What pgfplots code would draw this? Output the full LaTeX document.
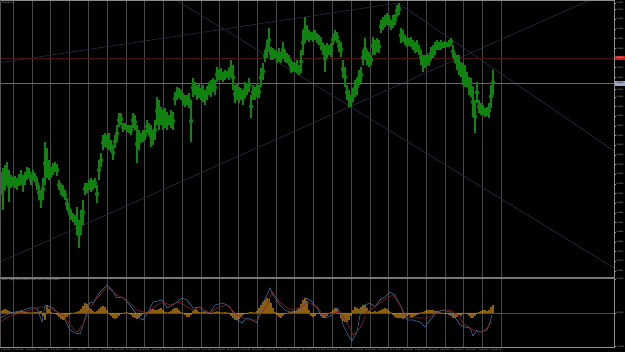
\documentclass[border=0pt]{standalone}
\usepackage{pgfplots}
\pgfplotsset{compat=1.18}
\usepackage{pgfplotstable}
\usepackage{fontspec}
\setmainfont{Liberation Sans}
\definecolor{gridgray}{RGB}{72,72,72}
\definecolor{framegray}{RGB}{140,140,140}
\definecolor{labelgray}{RGB}{180,180,180}
\definecolor{bargreen}{RGB}{16,130,16}
\definecolor{trendblue}{RGB}{32,42,60}
\definecolor{hlinered}{RGB}{75,18,18}
\definecolor{bidgray}{RGB}{106,106,106}
\definecolor{historange}{RGB}{215,145,20}
\definecolor{macdblue}{RGB}{63,110,158}
\definecolor{signalred}{RGB}{142,30,30}
\definecolor{bidbox}{RGB}{151,169,193}
\definecolor{redbox}{RGB}{200,30,30}
\newcommand\tinyf{\fontsize{2}{2.4}\selectfont}

\pgfplotstableread{
x t b
1 172 195
3 168 210
5 165 190
7 162 185
9 170 202
11 175 188
13 177 186
15 176 188
17 178 190
19 174 186
21 170 185
23 175 192
25 172 185
27 167 180
29 168 178
31 175 185
33 170 180
35 173 182
37 178 190
39 185 200
41 190 208
43 178 200
45 142 185
47 148 178
49 160 180
51 167 178
53 163 175
55 162 172
57 164 176
59 180 190
61 183 195
63 185 197
65 190 200
67 198 210
69 205 215
71 210 220
73 213 222
75 215 225
77 207 235
79 220 248
81 210 235
83 200 225
85 183 195
87 183 193
89 180 190
91 178 192
93 180 190
95 178 188
97 185 203
99 160 180
101 153 167
103 135 150
105 133 147
107 135 148
109 133 150
111 140 152
113 145 160
115 135 148
117 125 142
119 113 127
121 113 125
123 123 132
125 123 130
127 125 132
129 125 133
131 125 135
133 113 128
135 115 130
137 125 163
139 130 150
141 133 143
143 130 142
145 130 140
147 120 133
149 123 135
151 125 147
153 130 145
155 120 140
157 97 125
159 100 130
161 107 125
163 110 130
165 108 128
167 112 130
169 115 125
171 110 128
173 112 130
175 92 105
177 87 100
179 88 98
181 90 100
183 93 105
185 95 107
187 95 105
189 93 108
191 100 142
193 78 97
195 82 95
197 85 100
199 83 98
201 88 100
203 85 102
205 90 105
207 86 100
209 82 95
211 80 97
213 78 92
215 80 95
217 67 82
219 70 80
221 68 80
223 72 82
225 70 80
227 71 78
229 68 80
231 60 77
233 65 90
235 85 103
237 83 100
239 87 103
241 88 100
243 90 105
245 82 98
247 83 95
249 78 92
251 95 118
253 85 100
255 87 100
257 83 97
259 85 98
261 68 87
263 63 80
265 50 62
267 40 58
269 28 52
271 47 60
273 48 60
275 50 58
277 52 63
279 48 62
281 52 63
283 42 58
285 50 62
287 53 63
289 55 65
291 60 73
293 62 72
295 63 72
297 60 73
299 65 75
301 50 73
303 30 55
305 17 43
307 25 40
309 30 42
311 32 40
313 32 42
315 30 40
317 33 43
319 35 45
321 37 50
323 43 55
325 45 72
327 43 58
329 45 55
331 43 57
333 35 45
335 30 40
337 32 43
339 40 52
341 42 57
343 60 78
345 67 87
347 85 100
349 90 107
351 95 107
353 88 102
355 80 97
357 78 95
359 70 85
361 67 83
363 50 65
365 38 60
367 50 65
369 52 67
371 55 65
373 37 55
375 40 55
377 38 52
379 40 53
381 20 33
383 17 30
385 15 27
387 13 25
389 15 26
391 20 30
393 15 28
395 14 25
397 5 17
399 3 15
401 28 43
403 30 42
405 35 45
407 37 47
409 38 46
411 37 47
413 40 50
415 42 53
417 40 52
419 45 55
421 50 65
423 55 72
425 55 68
427 53 65
429 55 66
431 47 60
433 45 58
435 42 55
437 40 50
439 42 50
441 40 50
443 42 48
445 41 48
447 42 47
449 40 47
451 38 46
453 45 58
455 53 63
457 55 70
459 55 75
461 62 77
463 63 85
465 65 87
467 72 87
469 77 95
471 78 97
473 87 117
475 100 133
477 82 103
479 100 113
481 103 115
483 105 115
485 108 117
487 107 116
489 103 118
491 85 108
493 70 95
}\bars

\pgfplotstableread{
x h
1 2
3 3
5 4
7 3
9 2
11 1
13 0.5
15 0.5
17 1
19 1.5
21 2
23 2
25 1.5
27 1
29 0.5
31 0.5
33 0.5
35 1
37 1
39 1.5
41 2
43 -3
45 -7
47 8
49 4
51 1
53 -0.5
55 -1
57 -2
59 -4
61 -6
63 -7
65 -6
67 -4
69 -2
71 -1
73 -0.5
75 0.5
77 1
79 2
81 4
83 7
85 10
87 9
89 5
91 4
93 2
95 1
97 2
99 4
101 6
103 7
105 6
107 3
109 -1
111 -3
113 -5
115 -6
117 -5
119 -3
121 -1
123 -0.5
125 0.5
127 0.5
129 -1
131 -2
133 -4
135 -5
137 -6
139 -5
141 -3
143 -1
145 0.5
147 1
149 2
151 4
153 4
155 3
157 3
159 4
161 5
163 3
165 1
167 0.5
169 1
171 2
173 4
175 5
177 5
179 3
181 1
183 -0.5
185 -2
187 -4
189 -4
191 -2
193 2
195 4
197 3
199 1
201 0.5
203 1
205 1
207 0.5
209 -0.5
211 -1
213 0.5
215 1
217 1.5
219 1
221 0.5
223 0.5
225 1
227 0.5
229 -1
231 -3
233 -5
235 -7
237 -7
239 -6
241 -4
243 -2
245 -1
247 -1
249 0.5
251 1
253 0.5
255 0.5
257 2
259 5
261 8
263 11
265 13
267 15
269 14
271 10
273 5
275 1
277 -2
279 -4
281 -5
283 -3
285 -1
287 -0.5
289 0.5
291 1
293 2
295 2
297 3
299 5
301 9
303 13
305 15
307 12
309 3
311 -3
313 -4
315 -3
317 -1
319 -1
321 -3
323 -5
325 -5
327 -3
329 -1
331 1
333 3
335 5
337 4
339 -1
341 -5
343 -8
345 -9
347 -9
349 -7
351 -3
353 3
355 6
357 5
359 4
361 6
363 8
365 8
367 5
369 2
371 1
373 1
375 2
377 1
379 2
381 3
383 4
385 5
387 4
389 2
391 0.5
393 -2
395 -4
397 -5
399 -5
401 -5
403 -6
405 -5
407 -3
409 -2
411 -4
413 -4
415 -3
417 -2
419 -1
421 0.5
423 1
425 2
427 3
429 3
431 3
433 3
435 2
437 2
439 1
441 0.5
443 -0.5
445 -1
447 -1
449 -2
451 -3
453 -5
455 -5
457 -4
459 -2
461 -3
463 -1
465 -0.5
467 -1
469 -3
471 -5
473 -5
475 -3
477 -1
479 1
481 2
483 3
485 3
487 2
489 3
491 6
493 8
}\hist

\pgfplotstableread{
x u
0 -5
10 0
20 2
30 5
37 5
42 -9
45 8
53 5
60 -2
65 -7
70 -17
75 -20
80 -21
83 -12
90 11
93 10
100 21
107 28
112 23
117 15
122 16
127 11
132 5
140 -5
143 -7
148 1
153 11
162 13
167 5
173 8
182 15
187 13
193 5
200 6
203 2
210 0
215 8
223 10
230 6
237 -7
242 -10
247 -5
252 -7
257 -10
262 8
267 18
270 25
273 18
280 8
285 3
290 1
295 1
300 3
307 15
312 11
317 5
322 -4
325 -5
332 -2
337 5
340 1
343 -12
348 -22
352 -28
357 -19
360 -2
365 8
370 10
375 6
380 13
385 16
390 21
395 18
400 8
403 1
407 -7
413 -7
420 -9
425 -14
430 -7
437 1
442 3
450 1
457 -7
460 -12
465 -14
470 -15
473 -23
477 -17
480 -19
487 -17
490 -9
492 -2
}\blueline

\pgfplotstableread{
x u
0 -9
10 -3
30 3
40 6
50 5
63 -2
70 -12
77 -19
83 -12
90 5
97 15
107 26
117 18
127 13
137 3
147 0
157 8
163 11
170 8
180 11
187 6
193 3
200 6
210 0
217 5
227 8
237 -2
247 -7
257 -7
267 8
272 21
280 11
290 3
300 5
308 11
317 6
323 -2
333 0
340 1
347 -10
353 -22
360 -15
367 1
377 8
387 15
393 18
400 8
407 -4
417 -5
427 -5
433 -2
443 3
450 3
457 -2
463 -10
470 -15
477 -19
482 -19
487 -15
492 -9
}\redline

\pgfplotsset{
  mtaxis/.style={
    scale only axis, xmin=0, xmax=614,
    axis line style={draw=none}, tick style={draw=none},
    xtick=\empty, ytick=\empty,
  }
}

\begin{document}
\begin{tikzpicture}[x=1pt,y=1pt]
\path[use as bounding box] (0,0) rectangle (625,-352);
\fill[black] (0,0) rectangle (625,-352);

% vertical grid (both windows)
\foreach \g in {13.3,32.07,50.84,69.61,88.38,107.15,125.92,144.69,163.46,182.23,201.0,219.77,238.54,257.31,276.08,294.85,313.62,332.39,351.16,369.93,388.7,407.47,426.24,445.01,463.78,482.55,501.32}{
  \draw[color=gridgray, line width=0.75pt] (\g,0) -- (\g,-348);
}

% main price window
\begin{axis}[mtaxis, at={(0pt,0pt)}, anchor=north west,
  width=614pt, height=277pt, ymin=0, ymax=277, y dir=reverse]
  \addplot[color=trendblue, line width=0.7pt] coordinates {(0,62.7) (398,3)};
  \addplot[color=trendblue, line width=0.7pt] coordinates {(398,3) (614,151)};
  \addplot[color=trendblue, line width=0.7pt] coordinates {(176,0) (614,268)};
  \addplot[color=trendblue, line width=0.7pt] coordinates {(0,262) (590,0)};
  \addplot[color=hlinered, line width=0.7pt] coordinates {(0,58) (614,58)};
  \addplot[color=bidgray, line width=0.7pt] coordinates {(0,83.3) (614,83.3)};
  \addplot[color=bargreen, only marks, mark=none,
    error bars/.cd, y dir=both, y explicit, error mark=none,
    error bar style={color=bargreen, line width=1.15pt, solid}]
    table[x=x, y expr={(\thisrow{t}+\thisrow{b})/2},
          y error expr={(\thisrow{b}-\thisrow{t})/2}] {\bars};
\end{axis}

% indicator window
\begin{axis}[mtaxis, at={(0pt,-278pt)}, anchor=north west,
  width=614pt, height=70pt, ymin=-35, ymax=35]
  \addplot[color=gray!60!black, line width=0.5pt] coordinates {(0,0) (614,0)};
  \addplot[ybar, bar width=1.1pt, bar shift=0pt, fill=historange, draw=none] table[x=x, y=h] {\hist};
  \addplot[color=macdblue, line width=0.6pt] table[x=x, y=u] {\blueline};
  \addplot[color=signalred, line width=0.6pt] table[x=x, y=u] {\redline};
\end{axis}

% frame
\draw[color=framegray, line width=0.7pt] (0,-0.4) -- (614.3,-0.4);
\draw[color=framegray!60!black, line width=0.5pt] (0.3,0) -- (0.3,-348);
\draw[color=framegray, line width=0.7pt] (614.3,0) -- (614.3,-348);
\draw[color=framegray!85!black, line width=1.8pt] (0,-277.7) -- (614.3,-277.7);
\draw[color=framegray, line width=0.7pt] (0,-347.8) -- (614.3,-347.8);

% window captions
\node[anchor=north west, inner sep=0, font=\tinyf, text=labelgray] at (2,-1.5) {EURUSD,H1};
\node[anchor=north west, inner sep=0, font=\tinyf, text=labelgray] at (2,-279.3) {MACD\_Hist(12,26,9) 0.00056 0.00039 0.00017 0.00000 0.00000};

% price scale
\foreach \r/\v in {3.3/1.10032, 9.62/1.10000, 19.3/1.09950, 28.98/1.09900, 38.66/1.09850, 48.34/1.09800,
  67.7/1.09700, 77.38/1.09650, 89.5/1.09600, 96.74/1.09550, 106.42/1.09500, 116.1/1.09450,
  125.78/1.09400, 135.46/1.09350, 145.14/1.09300, 154.82/1.09250, 164.5/1.09200, 174.18/1.09150,
  183.86/1.09100, 193.54/1.09050, 203.22/1.09000, 212.9/1.08950, 222.58/1.08900, 232.26/1.08850,
  241.94/1.08800, 251.62/1.08750, 261.3/1.08700, 270.98/1.08650}{
  \draw[color=framegray, line width=0.4pt] (614.3,-\r) -- (615.6,-\r);
  \node[anchor=west, inner sep=0, font=\tinyf, text=labelgray] at (616,-\r) {\v};
}
\fill[color=redbox] (614.6,-55.6) rectangle (625,-60.4);
\node[anchor=west, inner sep=0, font=\tinyf, text=white] at (616,-58) {1.09750};
\fill[color=bidbox] (614.6,-81) rectangle (625,-85.6);
\node[anchor=west, inner sep=0, font=\tinyf, text=black] at (616,-83.3) {1.09619};

% indicator scale
\foreach \r/\v in {279.3/0.00350, 313.3/0.00000, 346.6/-0.00350}{
  \draw[color=framegray, line width=0.4pt] (614.3,-\r) -- (615.6,-\r);
  \node[anchor=west, inner sep=0, font=\tinyf, text=labelgray] at (616,-\r) {\v};
}

% time scale
\foreach \i/\s in {0/{3 Jul 2023},1/{3 Jul 16:00},2/{4 Jul 08:00},3/{5 Jul 00:00},4/{5 Jul 16:00},
  5/{6 Jul 08:00},6/{7 Jul 00:00},7/{7 Jul 16:00},8/{10 Jul 08:00},9/{11 Jul 00:00},
  10/{11 Jul 16:00},11/{12 Jul 08:00},12/{13 Jul 00:00},13/{13 Jul 16:00},14/{14 Jul 08:00},
  15/{17 Jul 00:00},16/{17 Jul 16:00},17/{18 Jul 08:00},18/{19 Jul 00:00},19/{19 Jul 16:00},
  20/{20 Jul 08:00},21/{21 Jul 00:00},22/{21 Jul 16:00},23/{24 Jul 08:00},24/{25 Jul 00:00},
  25/{25 Jul 16:00},26/{26 Jul 08:00},27/{27 Jul 00:00},28/{27 Jul 16:00},29/{28 Jul 08:00},
  30/{31 Jul 00:00},31/{31 Jul 16:00},32/{1 Aug 08:00},33/{2 Aug 00:00},34/{2 Aug 16:00},
  35/{3 Aug 08:00},36/{4 Aug 00:00},37/{4 Aug 16:00},38/{7 Aug 08:00},39/{8 Aug 00:00}}{
  \node[anchor=north west, inner sep=0, font=\tinyf, text=labelgray] at ({0.7+12.55*\i},-348.6) {\s};
}
\end{tikzpicture}
\end{document}
